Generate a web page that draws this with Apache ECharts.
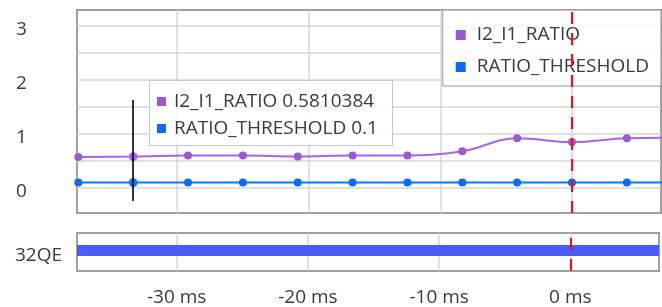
<!DOCTYPE html>
<html><head><meta charset="utf-8">
<script src="https://cdn.jsdelivr.net/npm/echarts@6/dist/echarts.min.js"></script>
<style>html,body{margin:0;padding:0;background:#fff}#c{width:662px;height:307px}</style>
</head><body><div id="c"></div>
<script>
// ---- data ----
const seriesNames = ['I2_I1_RATIO', 'RATIO_THRESHOLD'];
const timesMs = [-37.5, -33.333, -29.167, -25, -20.833, -16.667, -12.5, -8.333, -4.167, 0, 4.167, 8.333];
const ratioValues = [0.575, 0.5810384, 0.60, 0.60, 0.585, 0.60, 0.60, 0.68, 0.92, 0.85, 0.92, 0.93];
const thresholdValues = [0.1, 0.1, 0.1, 0.1, 0.1, 0.1, 0.1, 0.1, 0.1, 0.1, 0.1, 0.1];
const statusLabels = ['32QE'];
const statusSpansMs = [[-45, 15]];
const xTickLabels = [-30, -20, -10, 0];
const yTickLabels = [0, 1, 2, 3];
const triggerTimeMs = 0;
const cursorIndex = 1;

// ---- styles ----
const FONT = 'Open Sans';
const FS = 19;
const TXT = '#3a3a3a';
const PURPLE = '#9b59cf';
const BLUE = '#0a6cf5';
const BAR = '#4a5cff';
const RED = '#ee1111';
const GRIDC = '#d6d6d6';
const BORDER = '#a0a0a0';

const X_MIN = -37.6, X_MAX = 6.76;

const chart = echarts.init(document.getElementById('c'), null, {renderer: 'canvas'});

const zip = (xs, ys) => xs.map((x, i) => [x, ys[i]]);

const xFmt = v => {
  const r = Math.round(v);
  return (Math.abs(v - r) < 1e-6 && xTickLabels.indexOf(r) >= 0) ? r + ' ms' : '';
};
const yFmt = v => {
  const r = Math.round(v);
  return (Math.abs(v - r) < 1e-6 && yTickLabels.indexOf(r) >= 0) ? '{v|' + r + '}' : '';
};
const richLow = {v: {color: TXT, fontSize: FS, fontFamily: FONT, padding: [8, 0, 0, 0]}};

const redLine = {
  silent: true, symbol: 'none', label: {show: false},
  lineStyle: {color: RED, type: [12, 9], width: 2.2},
  data: [{xAxis: triggerTimeMs}]
};

const splitL = {show: true, showMinLine: false, showMaxLine: false, lineStyle: {color: GRIDC, width: 1.5}};

const option = {
  animation: false,
  textStyle: {fontFamily: FONT},
  grid: [
    {left: 77, right: 1, top: 10, height: 203, show: true, borderColor: BORDER, borderWidth: 2, containLabel: false},
    {left: 77, right: 1, top: 233, height: 46, show: true, borderColor: BORDER, borderWidth: 2, containLabel: false}
  ],
  xAxis: [
    {type: 'value', gridIndex: 0, min: X_MIN, max: X_MAX, splitNumber: 5,
     axisLine: {show: false}, axisTick: {show: false}, axisLabel: {show: false},
     splitLine: splitL},
    {type: 'value', gridIndex: 1, min: X_MIN, max: X_MAX, splitNumber: 5,
     axisLine: {show: false}, axisTick: {show: false},
     axisLabel: {show: true, formatter: xFmt, color: TXT, fontSize: FS, fontFamily: FONT, margin: 17},
     splitLine: splitL}
  ],
  yAxis: [
    {type: 'value', gridIndex: 0, min: -0.463, max: 3.296, splitNumber: 7,
     axisLine: {show: false}, axisTick: {show: false},
     axisLabel: {show: true, formatter: yFmt, color: TXT, fontSize: FS, fontFamily: FONT, align: 'left', margin: 61, rich: richLow},
     splitLine: splitL},
    {type: 'category', gridIndex: 1, data: statusLabels,
     axisLine: {show: false}, axisTick: {show: false},
     axisLabel: {show: true, formatter: s => '{v|' + s + '}', color: TXT, fontSize: FS, fontFamily: FONT, align: 'left', margin: 62, rich: richLow},
     splitLine: {show: false}}
  ],
  legend: {
    orient: 'vertical', right: 1, top: 10,
    data: seriesNames, icon: 'rect', itemWidth: 10, itemHeight: 10, itemGap: 10,
    padding: [14, 12, 8, 13],
    backgroundColor: 'rgba(255,255,255,0.8)', borderColor: '#9a9a9a', borderWidth: 1,
    textStyle: {color: TXT, fontSize: FS, fontFamily: FONT, lineHeight: 22, padding: [0, 0, 0, 6]},
    selectedMode: false
  },
  tooltip: {
    trigger: 'axis', axisPointer: {type: 'none'},
    alwaysShowContent: true, transitionDuration: 0, showDelay: 0, hideDelay: 100000,
    position: [149, 80],
    backgroundColor: 'rgba(255,255,255,0.85)', borderColor: '#c8c8c8', borderWidth: 1,
    padding: [6, 14, 4, 7],
    extraCssText: 'box-shadow:none;border-radius:0;',
    textStyle: {color: TXT, fontSize: FS, fontFamily: FONT},
    formatter: params => params
      .filter(p => seriesNames.indexOf(p.seriesName) >= 0)
      .map(p => '<div style="line-height:27px;white-space:nowrap">' +
        '<span style="display:inline-block;width:9px;height:9px;background:' + p.color +
        ';margin-right:8px;vertical-align:1px"></span>' + p.seriesName + ' ' + p.value[1] + '</div>')
      .join('')
  },
  series: [
    {name: seriesNames[0], type: 'line', xAxisIndex: 0, yAxisIndex: 0,
     data: zip(timesMs, ratioValues), smooth: 0.4, symbol: 'circle', symbolSize: 8,
     color: PURPLE, lineStyle: {width: 2, color: PURPLE}, itemStyle: {color: PURPLE}, z: 3,
     markLine: {
       silent: true, symbol: 'none', label: {show: false},
       lineStyle: {color: '#000', type: 'solid', width: 1.6},
       data: [[{coord: [timesMs[cursorIndex], 1.63]}, {coord: [timesMs[cursorIndex], -0.24]}]]
     }},
    {name: seriesNames[1], type: 'line', xAxisIndex: 0, yAxisIndex: 0,
     data: zip(timesMs, thresholdValues), symbol: 'circle', symbolSize: 8,
     color: BLUE, lineStyle: {width: 2, color: BLUE}, itemStyle: {color: BLUE}, z: 3,
     markLine: redLine},
    {name: statusLabels[0], type: 'custom', xAxisIndex: 1, yAxisIndex: 1,
     dimensions: [{name: 'start', type: 'number'}, {name: 'end', type: 'number'}, {name: 'state', type: 'ordinal'}],
     data: statusSpansMs.map((s, i) => [s[0], s[1], statusLabels[i]]),
     encode: {x: [0, 1], y: 2},
     tooltip: {show: false},
     renderItem: (params, api) => {
       const cat = api.value(2);
       const a = api.coord([api.value(0), cat]);
       const b = api.coord([api.value(1), cat]);
       const h = api.size([0, 1])[1] * 0.283;
       const cs = params.coordSys;
       const rect = echarts.graphic.clipRectByRect(
         {x: a[0], y: a[1] - h / 2 - 1.5, width: b[0] - a[0], height: h},
         {x: cs.x, y: cs.y, width: cs.width, height: cs.height});
       return rect ? {type: 'rect', shape: rect, style: {fill: BAR}} : null;
     }},
    {name: 'trigger', type: 'line', xAxisIndex: 1, yAxisIndex: 1, symbol: 'none',
     data: [[triggerTimeMs, statusLabels[0]]], tooltip: {show: false},
     lineStyle: {opacity: 0}, markLine: redLine}
  ]
};
chart.setOption(option);
chart.dispatchAction({type: 'showTip', seriesIndex: 0, dataIndex: cursorIndex});
</script>
</body></html>
